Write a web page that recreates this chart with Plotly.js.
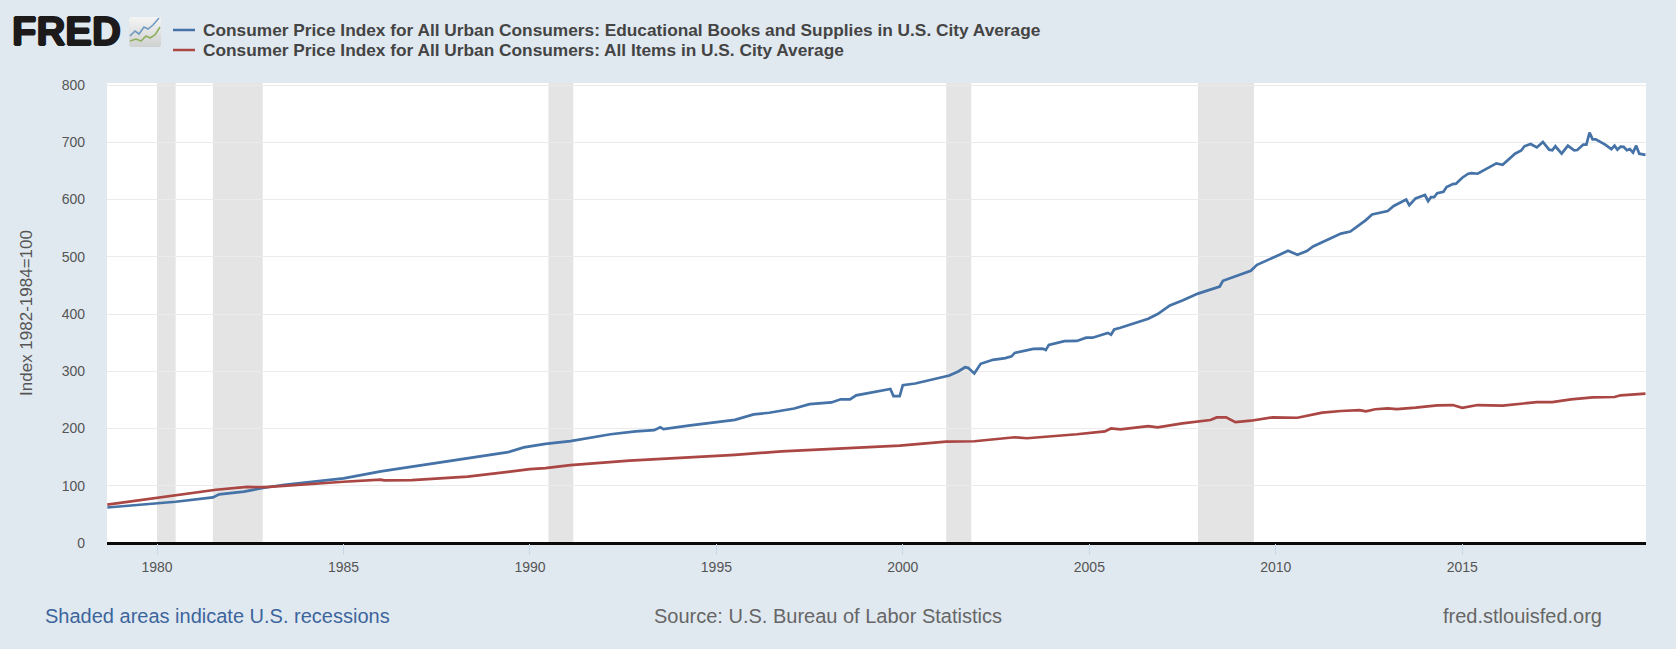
<!DOCTYPE html>
<html>
<head>
<meta charset="utf-8">
<script src="https://cdn.plot.ly/plotly-3.0.1.min.js"></script>
<style>html,body{margin:0;padding:0;background:#e1e9f0;overflow:hidden}#chart{width:1676px;height:649px}</style>
</head>
<body>
<div id="chart"></div>
<script>
const booksDates = ["1978-09","1980-01","1980-07","1981-07","1981-09","1982-05","1982-12","1983-06","1985-01","1986-01","1987-07","1988-08","1989-06","1989-11","1990-06","1991-02","1991-08","1992-03","1992-11","1993-05","1993-07","1993-08","1994-04","1994-11","1995-07","1996-01","1996-06","1997-02","1997-07","1998-02","1998-05","1998-08","1998-10","1999-09","1999-10","1999-12","2000-01","2000-05","2001-01","2001-04","2001-07","2001-09","2001-10","2001-12","2002-02","2002-06","2002-10","2002-12","2003-01","2003-05","2003-07","2003-10","2003-11","2003-12","2004-05","2004-09","2004-12","2005-02","2005-07","2005-08","2005-09","2005-11","2006-04","2006-08","2006-11","2007-01","2007-03","2007-07","2007-12","2008-07","2008-08","2009-05","2009-07","2010-02","2010-05","2010-08","2010-11","2011-01","2011-07","2011-10","2012-01","2012-04","2012-06","2012-08","2012-10","2013-01","2013-03","2013-07","2013-08","2013-10","2014-01","2014-02","2014-03","2014-04","2014-05","2014-07","2014-08","2014-10","2014-11","2015-01","2015-03","2015-04","2015-06","2015-09","2015-12","2016-02","2016-04","2016-06","2016-08","2016-09","2016-11","2017-01","2017-03","2017-05","2017-06","2017-07","2017-09","2017-11","2018-01","2018-02","2018-04","2018-05","2018-06","2018-07","2018-08","2018-11","2019-01","2019-02","2019-03","2019-04","2019-05","2019-06","2019-07","2019-08","2019-09","2019-10","2019-12"];
const booksValues = [62,68.7,72,79.7,85,89.6,97,101.7,113,125,139.5,151,158.6,167,173,178,184,190,195,197,202,199,205,210,215,224.7,227.5,235,242.6,245.5,251,251,258,269,256.5,256.5,275.6,278.6,289,292.5,300,307,306,296,313,320,323,326,332,336.5,339,339.5,337,346,352.7,353,358.6,358.6,367,364,373,376,384,391.6,400,408,415,423.5,435.6,448,458,475.6,486,503,510.5,503.5,510,518,532,540.5,544,555.6,564,574,576,580,588.7,600,590,602,607.8,597,604,604,611,613.6,621.7,627,627.6,638,645,646,645,653.6,663,660.6,670,680,685.5,693,697,691,700.5,687,686,693,680,694,686,686.5,696,696,717,705,705,696,688,694,687,692.5,692,686,688,682,694,680,678,679,682];
const itemsDates = ["1978-09","1980-01","1980-06","1981-08","1982-06","1982-12","1985-01","1986-01","1986-02","1986-11","1988-05","1989-06","1990-01","1990-06","1990-12","1991-02","1992-09","1993-08","1994-06","1995-07","1996-10","1998-01","1998-10","1999-12","2001-03","2001-12","2003-01","2003-05","2004-09","2005-06","2005-08","2005-11","2006-08","2006-11","2007-07","2007-12","2008-04","2008-06","2008-09","2008-12","2009-05","2009-12","2010-08","2011-04","2011-10","2012-04","2012-06","2012-09","2013-01","2013-04","2013-10","2014-05","2014-10","2015-01","2015-06","2016-02","2016-09","2017-01","2017-06","2017-12","2018-07","2019-02","2019-04","2019-08","2019-12"];
const itemsValues = [67,79,82.6,93,98,97.5,107,110.6,109.5,110,116,125,129,130.7,134.8,136,144,147,150,154,160,163.8,165.5,170,177,177.7,184.7,183,190,195,200,198.5,204,202,209,212.5,214.8,219.4,219.4,211,213.6,219.4,218.8,227.8,230.6,232,230,233.6,235,234,236.4,240.5,241,236,241,240,244,246,246,251,254.4,255,258,259,261];
const recessionStarts = ["1980-01-01","1981-07-01","1990-07-01","2001-03-01","2007-12-01"];
const recessionEnds = ["1980-07-01","1982-11-01","1991-03-01","2001-11-01","2009-06-01"];
const yTicks = [0,100,200,300,400,500,600,700,800];
const xTickYears = ["1980","1985","1990","1995","2000","2005","2010","2015"];
const seriesNames = ["Consumer Price Index for All Urban Consumers: Educational Books and Supplies in U.S. City Average","Consumer Price Index for All Urban Consumers: All Items in U.S. City Average"];

const W=1676,H=649,L=107,R=1646,T=83,B=543;
const px=x=>(x-L)/(R-L), py=y=>(B-y)/(B-T);
const FONT='"Liberation Sans", Arial, sans-serif';
const BLUE='#4572a7',RED='#aa4643';
const note=(text,x,y,size,color,anchor,shadow)=>({text,x:px(x),y:py(y),xref:'paper',yref:'paper',xanchor:anchor||'left',yanchor:'middle',showarrow:false,font:Object.assign({family:FONT,size,color},shadow?{shadow}:{})});
const key=(y,color)=>({type:'line',xref:'paper',yref:'paper',x0:px(173),x1:px(195),y0:py(y),y1:py(y),line:{color,width:2.5}});
const icon='data:image/svg+xml;utf8,'+encodeURIComponent('<svg xmlns="http://www.w3.org/2000/svg" width="32" height="30" viewBox="0 0 32 30"><defs><linearGradient id="g" x1="0" y1="0" x2="0" y2="1"><stop offset="0" stop-color="#f4f4f4"/><stop offset="1" stop-color="#cfd1d0"/></linearGradient></defs><rect width="32" height="30" rx="3" fill="url(#g)"/><path d="M1 19 L6 14 L10 17 L15 10 L19 12 L24 8 L30 1" fill="none" stroke="#6f9bc2" stroke-width="1.6"/><path d="M1 24 L7 22 L12 24 L17 19 L21 21 L26 18 L31 10" fill="none" stroke="#8fb05c" stroke-width="1.6"/></svg>');

const traces=[
 {x:booksDates,y:booksValues,name:seriesNames[0],type:'scatter',mode:'lines',line:{color:BLUE,width:2.7,shape:'linear'},hoverinfo:'x+y'},
 {x:itemsDates,y:itemsValues,name:seriesNames[1],type:'scatter',mode:'lines',line:{color:RED,width:2.7,shape:'linear'},hoverinfo:'x+y'}
];
const layout={
 width:W,height:H,paper_bgcolor:'#e1e9f0',plot_bgcolor:'#ffffff',showlegend:false,
 margin:{l:L,r:W-R,t:T,b:H-B,pad:0},
 font:{family:FONT,size:14,color:'#555'},
 xaxis:{type:'date',range:['1978-08-29','2019-12-06'],tickmode:'array',tickvals:xTickYears.map(y=>y+'-01-01'),ticktext:xTickYears,ticks:'outside',ticklen:11,tickwidth:1,tickcolor:'#c8d6e8',showgrid:false,zeroline:false,showline:false,tickfont:{family:FONT,size:14,color:'#555'}},
 yaxis:{range:[0,803.5],tickmode:'array',tickvals:yTicks,ticktext:yTicks.map(String),gridcolor:'#ebebeb',gridwidth:1,zeroline:true,zerolinecolor:'#0a0a0a',zerolinewidth:3,showline:false,ticks:'',ticklabelstandoff:21,tickfont:{family:FONT,size:14,color:'#555'},title:{text:'Index 1982-1984=100',standoff:24,font:{family:FONT,size:17,color:'#555'}}},
 shapes:recessionStarts.map((s,i)=>({type:'rect',xref:'x',yref:'paper',x0:s,x1:recessionEnds[i],y0:0,y1:1,fillcolor:'#e4e4e4',line:{width:0},layer:'below'})).concat([key(30,BLUE),key(50,RED)]),
 annotations:[
  note('<b>FRED</b>',10,31,40,'#1c1a1b','left','1px 0 0 #1c1a1b, -1px 0 0 #1c1a1b, 0 1px 0 #1c1a1b, 0 -1px 0 #1c1a1b'),
  note('<b>'+seriesNames[0]+'</b>',201,30,17.3,'#444'),
  note('<b>'+seriesNames[1]+'</b>',201,50,17.3,'#444'),
  note('Shaded areas indicate U.S. recessions',43,615.5,20,'#3c659c'),
  note('Source: U.S. Bureau of Labor Statistics',828,615.5,20,'#666','center'),
  note('fred.stlouisfed.org',1604,615.5,20,'#666','right')
 ],
 images:[{source:icon,xref:'paper',yref:'paper',x:px(129),y:py(17),sizex:px(161)-px(129),sizey:py(17)-py(47),xanchor:'left',yanchor:'top',sizing:'stretch',layer:'above'}]
};
Plotly.newPlot('chart',traces,layout,{displayModeBar:false,staticPlot:true});
</script>
</body>
</html>
